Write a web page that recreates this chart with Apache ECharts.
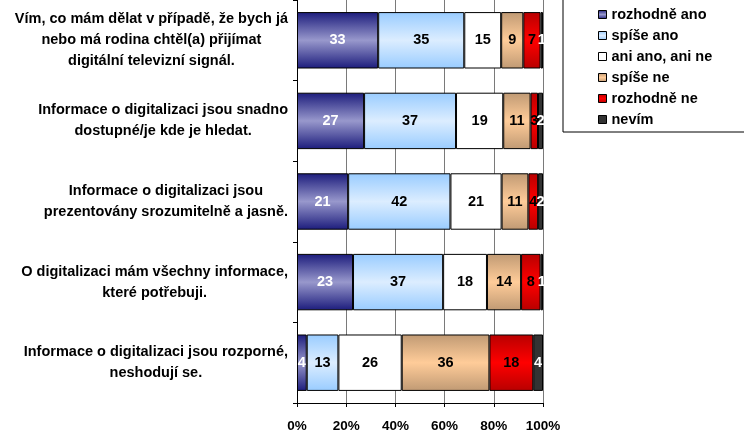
<!DOCTYPE html>
<html>
<head>
<meta charset="utf-8">
<script src="https://cdn.jsdelivr.net/npm/echarts@6/dist/echarts.min.js"></script>
<style>
  html, body { margin: 0; padding: 0; background: #fff; }
  #chart { width: 744px; height: 435px; }
</style>
</head>
<body>
<div id="chart"></div>
<script>
// 类别（从上到下）
const categories = [
  'Vím, co mám dělat v případě, že bych já\nnebo má rodina chtěl(a) přijímat\ndigitální televizní signál.',
  'Informace o digitalizaci jsou snadno\ndostupné/je kde je hledat.',
  'Informace o digitalizaci jsou\nprezentovány srozumitelně a jasně.',
  'O digitalizaci mám všechny informace,\nkteré potřebuji.',
  'Informace o digitalizaci jsou rozporné,\nneshodují se.'
]

// 各回答的百分比
const rozhodneAno = [33, 27, 21, 23, 4]
const spiseAno = [35, 37, 42, 37, 13]
const aniAnoAniNe = [15, 19, 21, 18, 26]
const spiseNe = [9, 11, 11, 14, 36]
const rozhodneNe = [7, 3, 4, 8, 18]
const nevim = [1, 2, 2, 1, 4]

const xTicks = [0, 20, 40, 60, 80, 100]

const FONT = 'Arial, "Liberation Sans", sans-serif'

const grad = (edge, mid) => new echarts.graphic.LinearGradient(0, 0, 0, 1, [
  { offset: 0, color: edge },
  { offset: 0.5, color: mid },
  { offset: 1, color: edge }
])

const seriesDefs = [
  { name: 'rozhodně ano', data: rozhodneAno, color: grad('#1c1c7c', '#9898cc'), label: '#fff' },
  { name: 'spíše ano', data: spiseAno, color: grad('#99ccff', '#dcedff'), label: '#000' },
  { name: 'ani ano, ani ne', data: aniAnoAniNe, color: '#ffffff', label: '#000' },
  { name: 'spíše ne', data: spiseNe, color: grad('#c09a74', '#ffcc99'), label: '#000' },
  { name: 'rozhodně ne', data: rozhodneNe, color: grad('#b80000', '#ff0000'), label: '#000' },
  { name: 'nevím', data: nevim, color: '#333333', label: '#fff' }
]

// 100% 堆叠：每行按合计归一化
const totals = categories.map((_, i) => seriesDefs.reduce((s, d) => s + d.data[i], 0))

const chart = echarts.init(document.getElementById('chart'))

const option = {
  backgroundColor: '#fff',
  animation: false,
  textStyle: { fontFamily: FONT },
  grid: { left: 297, right: 201, top: -3, bottom: 32 },
  legend: {
    orient: 'vertical',
    left: 563,
    top: -10,
    padding: [17, 60, 5, 35],
    itemWidth: 8,
    itemHeight: 8,
    itemGap: 6,
    backgroundColor: '#fff',
    borderColor: '#000',
    borderWidth: 1,
    textStyle: { fontFamily: FONT, fontWeight: 'bold', fontSize: 14.5, color: '#000' },
    data: seriesDefs.map(d => ({
      name: d.name,
      icon: 'rect',
      itemStyle: { borderColor: '#000', borderWidth: 1 }
    }))
  },
  xAxis: {
    type: 'value',
    min: 0,
    max: 100,
    interval: 20,
    axisLine: { show: true, lineStyle: { color: '#000' } },
    axisTick: { show: true, length: 4, lineStyle: { color: '#000' } },
    axisLabel: {
      margin: 16,
      fontFamily: FONT,
      fontWeight: 'bold',
      fontSize: 13.5,
      color: '#000',
      formatter: v => (xTicks.includes(v) ? v + '%' : '')
    },
    splitLine: { show: true, lineStyle: { color: '#7a7a7a', width: 1 } }
  },
  yAxis: {
    type: 'category',
    inverse: true,
    data: categories,
    axisLine: { show: true, lineStyle: { color: '#000' } },
    axisTick: { show: true, length: 4, lineStyle: { color: '#000' } },
    axisLabel: {
      margin: 9,
      color: '#000',
      formatter: v => v.split('\n').map(s => '{c|' + s + '}').join('\n'),
      rich: {
        c: {
          align: 'center',
          fontFamily: FONT,
          fontWeight: 'bold',
          fontSize: 14.5,
          lineHeight: 21,
          color: '#000'
        }
      }
    }
  },
  series: seriesDefs.map(d => ({
    name: d.name,
    type: 'bar',
    stack: 'total',
    barWidth: '70%',
    itemStyle: { color: d.color, borderColor: '#000', borderWidth: 1 },
    label: {
      show: true,
      position: 'inside',
      fontFamily: FONT,
      fontWeight: 'bold',
      fontSize: 14.5,
      color: d.label,
      formatter: p => p.data.raw
    },
    data: d.data.map((v, i) => ({ value: v / totals[i] * 100, raw: v }))
  }))
}

chart.setOption(option)
</script>
</body>
</html>
